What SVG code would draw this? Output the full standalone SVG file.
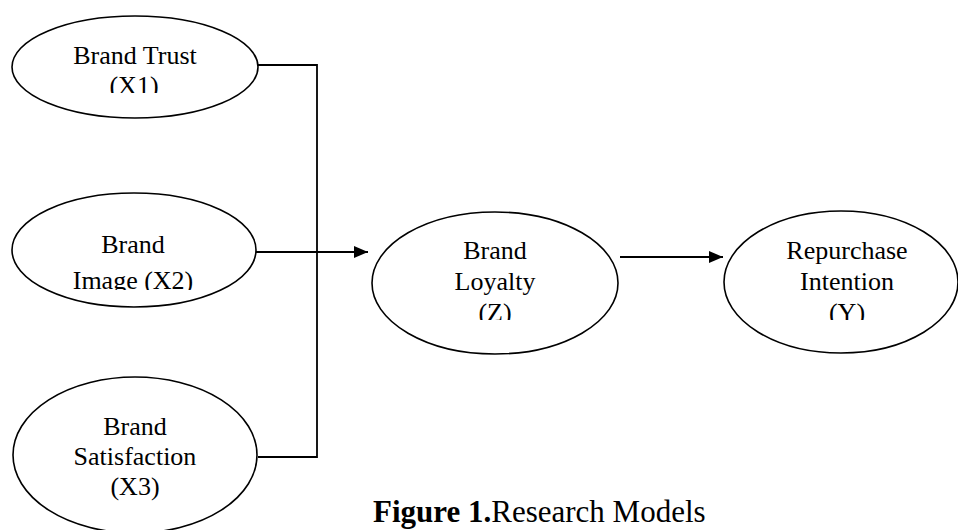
<svg xmlns="http://www.w3.org/2000/svg" width="958" height="530" viewBox="0 0 958 530">
<style>
  .node ellipse { fill: #ffffff; stroke: #000000; stroke-width: 1.6; }
  .node text { font-family: "Liberation Serif", "Times New Roman", serif; font-size: 26px; fill: #000000; text-anchor: middle; }
  .conn { fill: none; stroke: #000000; stroke-width: 1.8; }
  .cap { font-family: "Liberation Serif", "Times New Roman", serif; font-size: 31px; fill: #000000; }
</style>
<defs>
  <marker id="arrow" viewBox="0 0 14 12" refX="14" refY="6" markerWidth="14" markerHeight="12" markerUnits="userSpaceOnUse" orient="auto">
    <path d="M0,0 L14,6 L0,12 Z" fill="#000000"/>
  </marker>
  <clipPath id="clipX1"><rect x="0" y="0" width="300" height="93"/></clipPath>
  <clipPath id="clipX2"><rect x="0" y="200" width="300" height="90"/></clipPath>
  <clipPath id="clipZ"><rect x="380" y="220" width="230" height="100"/></clipPath>
  <clipPath id="clipY"><rect x="730" y="220" width="228" height="100"/></clipPath>
</defs>
<rect width="958" height="530" fill="#ffffff"/>

<g id="connectors">
  <polyline class="conn" points="258,65 317,65 317,457 258,457"/>
  <line class="conn" x1="256" y1="252" x2="368" y2="252" marker-end="url(#arrow)"/>
  <line class="conn" x1="620" y1="257" x2="723" y2="257" marker-end="url(#arrow)"/>
</g>

<g id="node-x1" class="node">
  <ellipse cx="135" cy="67" rx="123" ry="51"/>
  <g clip-path="url(#clipX1)">
    <text x="135" y="64">Brand Trust</text>
    <text x="134" y="94">(X1)</text>
  </g>
</g>

<g id="node-x2" class="node">
  <ellipse cx="134" cy="250" rx="122" ry="57"/>
  <g clip-path="url(#clipX2)">
    <text x="133" y="253">Brand</text>
    <text x="133" y="289">Image (X2)</text>
  </g>
</g>

<g id="node-x3" class="node">
  <ellipse cx="135" cy="455" rx="122" ry="78"/>
  <text x="135" y="435">Brand</text>
  <text x="135" y="465">Satisfaction</text>
  <text x="135" y="495">(X3)</text>
</g>

<g id="node-z" class="node">
  <ellipse cx="495" cy="283" rx="123" ry="71"/>
  <g clip-path="url(#clipZ)">
    <text x="495" y="259">Brand</text>
    <text x="495" y="290">Loyalty</text>
    <text x="495" y="321">(Z)</text>
  </g>
</g>

<g id="node-y" class="node">
  <ellipse cx="841" cy="282" rx="117" ry="71"/>
  <g clip-path="url(#clipY)">
    <text x="847" y="259">Repurchase</text>
    <text x="847" y="290">Intention</text>
    <text x="847" y="321">(Y)</text>
  </g>
</g>

<text class="cap" x="373" y="522"><tspan font-weight="bold">Figure 1.</tspan>Research Models</text>
</svg>
